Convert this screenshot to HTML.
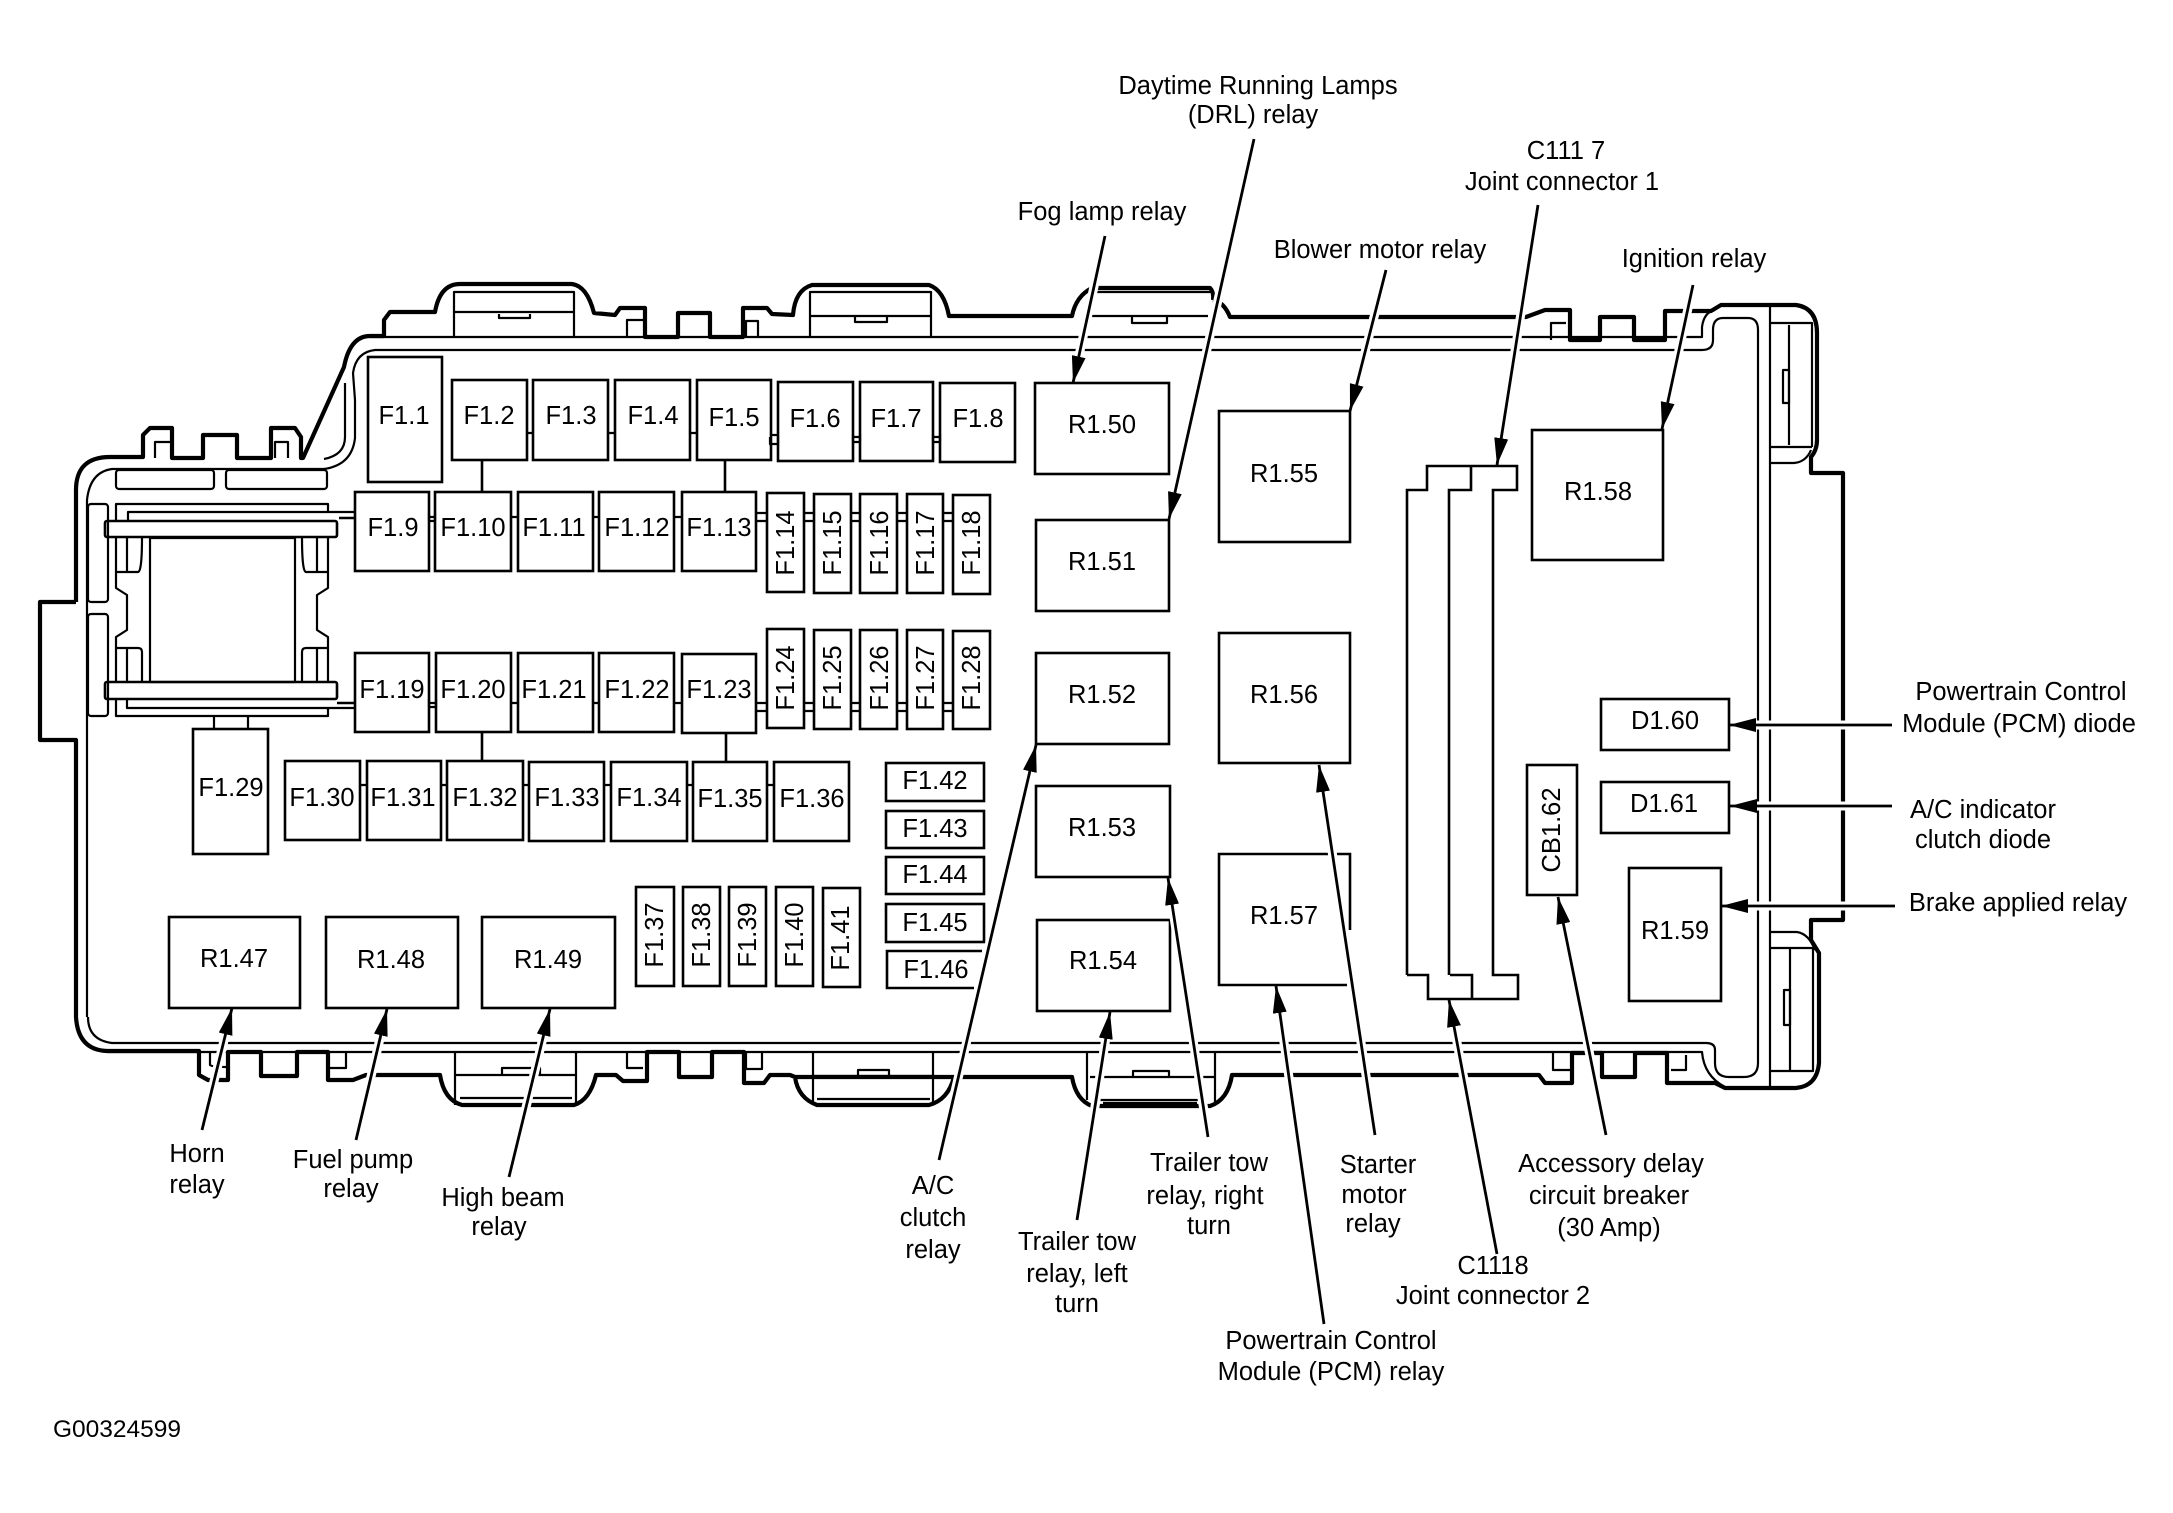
<!DOCTYPE html>
<html><head><meta charset="utf-8"><style>
html,body{margin:0;padding:0;background:#fff;width:2173px;height:1513px;overflow:hidden}
svg{display:block}
text{font-family:"Liberation Sans",sans-serif;font-size:25.5px;fill:#000;text-anchor:middle}
.o{fill:none;stroke:#000;stroke-width:4.2;stroke-linejoin:round}
.t{fill:none;stroke:#000;stroke-width:2.2;stroke-linejoin:round}
.b{fill:none;stroke:#000;stroke-width:2.6}
.h{stroke:#fff;stroke-width:9;fill:none;stroke-dasharray:.86 1}
.a{stroke:#000;stroke-width:2.8;fill:none;marker-end:url(#m)}
</style></head><body>
<svg xmlns="http://www.w3.org/2000/svg" width="2173" height="1513" viewBox="0 0 2173 1513">
<defs><marker id="m" markerUnits="userSpaceOnUse" markerWidth="28" markerHeight="14" refX="27" refY="7" orient="auto"><path d="M0,0L27,7L0,14z" fill="#000"/></marker></defs>
<rect width="2173" height="1513" fill="#fff"/>

<!-- outer housing -->
<path class="o" d="M76,602V490Q76,457 110,457H143V435L150,428H172V458H203V435H237V458H271V428H295L301,437V458H303L344,367Q350,336 370,336H384V320L390,312H435Q440,284 460,284H572Q587,286 594,313L615,315L620,308H645V337H678V313H710V337H743V308H767L772,314L793,315Q795,290 812,285H929Q944,290 949,316H1072Q1076,296 1092,288H1210Q1214,292 1213,300M1213,300Q1224,302 1230,317H1526L1545,310H1570V340H1600V317H1634V340H1665V311H1711L1721,305H1796Q1817,308 1817,333V440Q1817,450 1811,457V473H1843V920H1811V940L1819,953V1063Q1817,1086 1796,1088H1725L1715,1083H1667V1053H1635V1077H1602V1053H1572V1083H1545L1539,1075H1232Q1228,1100 1210,1106H1092Q1076,1100 1072,1077H795Q798,1098 817,1105H929Q948,1100 954,1077H795L790,1075H770L764,1083H744V1052H712V1077H679V1052H647V1081H623L616,1075H596Q590,1100 574,1105H462Q444,1100 440,1075H366L353,1080H328V1052H297V1076H261V1052H228V1080H208L199,1075V1051H107Q78,1050 76,1017V740H40V602H76"/>
<path class="o" d="M1103,1104H1197"/>

<!-- inner walls -->
<path class="t" d="M87,1017V500Q90,472 112,469H324Q352,465 355,438V400L353,373Q356,352 375,350H1702Q1713,350 1713,340V330Q1713,318 1723,318H1748Q1758,318 1758,330V1063Q1758,1077 1744,1077H1729Q1715,1077 1715,1063V1050Q1715,1043 1706,1043H112Q88,1040 88,1017"/>
<path class="t" d="M324,459Q345,455 345,437V383"/>
<path class="t" d="M370,337H1702V327Q1704,312 1715,310"/>
<path class="t" d="M107,1052H1702Q1704,1076 1725,1087"/>
<path class="t" d="M1770,305V1088"/>
<!-- right clips -->
<path class="t" d="M1770,323H1812V447M1789,325V445M1770,447H1812M1770,463H1794Q1806,462 1811,450"/>
<rect class="t" x="1783" y="370" width="6" height="33"/>
<path class="t" d="M1770,932H1797Q1809,934 1815,950M1770,948H1813V1071H1770M1790,948V1071"/>
<rect class="t" x="1784" y="990" width="6" height="35"/>
<!-- top clips -->
<path class="t" d="M454,337V292H574V337M454,312H574M499,314v4h31v-4M627,337V320H643"/>
<path class="t" d="M810,337V292H931V337M810,316H931M855,317v5h32v-5M746,337V321H758V337"/>
<path class="t" d="M1095,292H1212M1092,316H1208M1132,317v6h35v-6"/>
<path class="t" d="M1551,340V323H1566"/>
<!-- bottom clips -->
<path class="t" d="M455,1052V1105M576,1052V1105M455,1075H576M502,1075V1068H540V1075M460,1098H572"/>
<path class="t" d="M813,1052V1105M933,1052V1105M813,1076H933M858,1076V1070H889V1076M817,1099H930"/>
<path class="t" d="M1087,1052V1100M1215,1052V1102M1090,1077H1215M1133,1077V1071H1169V1077M1100,1100H1200"/>
<path class="t" d="M210,1052V1065Q212,1067 226,1067M328,1068H346V1052M627,1052V1068H643M746,1052V1069H762V1052M1553,1053V1070H1570M1671,1070H1686V1055"/>
<!-- top-left tab inner -->
<path class="t" d="M155,458V442H172M275,458V442H288V458"/>

<!-- left mechanism -->
<rect class="t" x="116" y="470" width="98" height="19" rx="3"/>
<rect class="t" x="226" y="470" width="101" height="19" rx="3"/>
<rect class="t" x="88" y="504" width="20" height="98" rx="3"/>
<rect class="t" x="88" y="614" width="20" height="102" rx="3"/>
<path class="t" d="M116,521V504H328V512M128,521V512H355"/>
<path class="b" d="M339,518H355M337,703H355"/>
<rect class="b" x="105" y="521" width="232" height="16" rx="2"/>
<rect class="b" x="105" y="682" width="232" height="17" rx="2"/>
<rect class="t" x="150" y="538" width="145" height="144"/>
<path class="t" d="M116,537V588L127,595V630L116,637V682M127,537V572M142,537Q142,572 138,572H116"/>
<path class="t" d="M328,537V588L317,595V630L328,637V682M317,537V572M302,537Q302,572 306,572H328"/>
<path class="t" d="M116,648H138Q142,648 142,652V682M127,648V682M328,648H306Q302,648 302,652V682M317,648V682"/>
<path class="t" d="M116,699V716H328V708H127V699M328,708H355"/>
<path class="t" d="M214,716V728M248,716V728"/>

<!-- stems -->
<path class="b" d="M482,460V492M725,460V492M482,732V761M726,732V761"/>
<path class="t" d="M527,433H533M608,433H615M690,433H697M770,435H778M853,437H860M933,437H940M429,517H435M511,517H518M593,517H599M674,517H682M429,703H436M511,703H518M593,703H599M674,703H682M360,785H367M441,785H447M523,785H529M604,785H611M687,785H693M767,785H774"/>
<path class="t" d="M770,437v7H778v-7M853,434v8H860v-8M933,434v8H940v-8M429,513v8H435v-8M429,699v8H436v-8"/>
<path class="t" d="M756,513H767M756,521H767M804,513H814M804,521H814M851,513H860M851,521H860M897,513H907M897,521H907M943,513H953M943,521H953"/>
<path class="t" d="M756,703H767M756,711H767M804,703H814M804,711H814M851,703H860M851,711H860M897,703H907M897,711H907M943,703H953M943,711H953"/>

<!-- fuses -->
<g class="b">
<rect x="368" y="357" width="74" height="125"/>
<rect x="452" y="380" width="75" height="80"/><rect x="533" y="380" width="75" height="80"/><rect x="615" y="380" width="75" height="80"/><rect x="697" y="380" width="74" height="80"/>
<rect x="778" y="382" width="75" height="79"/><rect x="860" y="382" width="73" height="79"/><rect x="940" y="383" width="75" height="79"/>
<rect x="355" y="492" width="74" height="79"/><rect x="435" y="492" width="76" height="79"/><rect x="518" y="492" width="75" height="79"/><rect x="599" y="492" width="75" height="79"/><rect x="682" y="492" width="74" height="79"/>
<rect x="767" y="493" width="37" height="99"/><rect x="814" y="494" width="37" height="99"/><rect x="860" y="494" width="37" height="99"/><rect x="907" y="494" width="36" height="99"/><rect x="953" y="495" width="37" height="99"/>
<rect x="355" y="653" width="74" height="79"/><rect x="436" y="653" width="75" height="79"/><rect x="518" y="653" width="75" height="79"/><rect x="599" y="653" width="75" height="79"/><rect x="682" y="654" width="74" height="79"/>
<rect x="767" y="629" width="37" height="99"/><rect x="814" y="630" width="37" height="99"/><rect x="860" y="630" width="37" height="99"/><rect x="907" y="630" width="36" height="99"/><rect x="953" y="631" width="37" height="98"/>
<rect x="193" y="729" width="75" height="125"/>
<rect x="285" y="761" width="75" height="79"/><rect x="367" y="761" width="74" height="79"/><rect x="447" y="761" width="76" height="79"/><rect x="529" y="762" width="75" height="79"/><rect x="611" y="762" width="76" height="79"/><rect x="693" y="762" width="74" height="79"/><rect x="774" y="762" width="75" height="79"/>
<rect x="636" y="887" width="38" height="99"/><rect x="683" y="887" width="37" height="99"/><rect x="729" y="887" width="37" height="99"/><rect x="776" y="887" width="37" height="99"/><rect x="823" y="888" width="37" height="99"/>
<rect x="886" y="763" width="98" height="38"/><rect x="886" y="811" width="98" height="37"/><rect x="886" y="857" width="98" height="37"/><rect x="886" y="904" width="98" height="38"/>
<path d="M982,951H887V988H974"/>
<!-- relays -->
<rect x="169" y="917" width="131" height="91"/><rect x="326" y="917" width="132" height="91"/><rect x="482" y="917" width="133" height="91"/>
<rect x="1035" y="383" width="134" height="91"/><rect x="1036" y="520" width="133" height="91"/><rect x="1036" y="653" width="133" height="91"/><rect x="1036" y="786" width="134" height="91"/><rect x="1037" y="920" width="133" height="91"/>
<rect x="1219" y="411" width="131" height="131"/><rect x="1219" y="633" width="131" height="130"/>
<path d="M1350,930V854H1219V985H1347"/>
<rect x="1532" y="430" width="131" height="130"/>
<rect x="1601" y="699" width="128" height="51"/><rect x="1601" y="782" width="128" height="51"/>
<rect x="1527" y="765" width="50" height="130"/><rect x="1629" y="868" width="92" height="133"/>
</g>

<!-- joint connectors -->
<path class="b" d="M1407,975V490H1427V466H1517V490H1493V975H1518V999H1428V975H1407M1449,975V490H1471V466M1450,975H1472V999"/>

<!-- arrow halos -->
<g class="h">
<path pathLength="1" d="M1105,236L1073,383"/><path pathLength="1" d="M1254,139L1169,519"/><path pathLength="1" d="M1538,205L1497,465"/><path pathLength="1" d="M1386,270L1350,411"/><path pathLength="1" d="M1693,285L1662,429"/>
<path pathLength="1" d="M1892,725H1729"/><path pathLength="1" d="M1892,806H1730"/><path pathLength="1" d="M1895,906H1721"/>
<path pathLength="1" d="M1606,1135L1558,897"/><path pathLength="1" d="M1497,1254L1449,1000"/><path pathLength="1" d="M1375,1135L1319,765"/><path pathLength="1" d="M1324,1324L1276,986"/><path pathLength="1" d="M1208,1137L1168,878"/><path pathLength="1" d="M1077,1220L1110,1012"/><path pathLength="1" d="M939,1160L1036,745"/>
<path pathLength="1" d="M509,1177L550,1009"/><path pathLength="1" d="M356,1140L387,1009"/><path pathLength="1" d="M202,1130L232,1008"/>
</g>
<!-- arrows -->
<g>
<path class="a" d="M1105,236L1073,383"/><path class="a" d="M1254,139L1169,519"/><path class="a" d="M1538,205L1497,465"/><path class="a" d="M1386,270L1350,411"/><path class="a" d="M1693,285L1662,429"/>
<path class="a" d="M1892,725H1729"/><path class="a" d="M1892,806H1730"/><path class="a" d="M1895,906H1721"/>
<path class="a" d="M1606,1135L1558,897"/><path class="a" d="M1497,1254L1449,1000"/><path class="a" d="M1375,1135L1319,765"/><path class="a" d="M1324,1324L1276,986"/><path class="a" d="M1208,1137L1168,878"/><path class="a" d="M1077,1220L1110,1012"/><path class="a" d="M939,1160L1036,745"/>
<path class="a" d="M509,1177L550,1009"/><path class="a" d="M356,1140L387,1009"/><path class="a" d="M202,1130L232,1008"/>
</g>

<!-- fuse labels -->
<text x="404" y="424">F1.1</text><text x="489" y="424">F1.2</text><text x="571" y="424">F1.3</text><text x="653" y="424">F1.4</text><text x="734" y="426">F1.5</text><text x="815" y="427">F1.6</text><text x="896" y="427">F1.7</text><text x="978" y="427">F1.8</text>
<text x="393" y="536">F1.9</text><text x="473" y="536">F1.10</text><text x="554" y="536">F1.11</text><text x="637" y="536">F1.12</text><text x="719" y="536">F1.13</text>
<text x="392" y="698">F1.19</text><text x="473" y="698">F1.20</text><text x="554" y="698">F1.21</text><text x="637" y="698">F1.22</text><text x="719" y="698">F1.23</text>
<text x="231" y="796">F1.29</text>
<text x="322" y="806">F1.30</text><text x="403" y="806">F1.31</text><text x="485" y="806">F1.32</text><text x="567" y="806">F1.33</text><text x="649" y="806">F1.34</text><text x="730" y="807">F1.35</text><text x="812" y="807">F1.36</text>
<text x="935" y="789">F1.42</text><text x="935" y="837">F1.43</text><text x="935" y="883">F1.44</text><text x="935" y="931">F1.45</text><text x="936" y="978">F1.46</text>
<text transform="translate(794,543) rotate(-90)">F1.14</text><text transform="translate(841,543) rotate(-90)">F1.15</text><text transform="translate(888,543) rotate(-90)">F1.16</text><text transform="translate(934,543) rotate(-90)">F1.17</text><text transform="translate(980,543) rotate(-90)">F1.18</text>
<text transform="translate(794,678) rotate(-90)">F1.24</text><text transform="translate(841,678) rotate(-90)">F1.25</text><text transform="translate(888,678) rotate(-90)">F1.26</text><text transform="translate(934,678) rotate(-90)">F1.27</text><text transform="translate(980,678) rotate(-90)">F1.28</text>
<text transform="translate(663,935) rotate(-90)">F1.37</text><text transform="translate(710,935) rotate(-90)">F1.38</text><text transform="translate(756,935) rotate(-90)">F1.39</text><text transform="translate(803,935) rotate(-90)">F1.40</text><text transform="translate(849,938) rotate(-90)">F1.41</text>
<!-- relay labels -->
<text x="234" y="967">R1.47</text><text x="391" y="968">R1.48</text><text x="548" y="968">R1.49</text>
<text x="1102" y="433">R1.50</text><text x="1102" y="570">R1.51</text><text x="1102" y="703">R1.52</text><text x="1102" y="836">R1.53</text><text x="1103" y="969">R1.54</text>
<text x="1284" y="482">R1.55</text><text x="1284" y="703">R1.56</text><text x="1284" y="924">R1.57</text>
<text x="1598" y="500">R1.58</text><text x="1665" y="729">D1.60</text><text x="1664" y="812">D1.61</text><text x="1675" y="939">R1.59</text>
<text transform="translate(1560,830) rotate(-90)">CB1.62</text>
<!-- callouts -->
<text x="1258" y="94">Daytime Running Lamps</text><text x="1253" y="123">(DRL) relay</text>
<text x="1102" y="220">Fog lamp relay</text>
<text x="1566" y="159">C111 7</text><text x="1562" y="190">Joint connector 1</text>
<text x="1380" y="258">Blower motor relay</text>
<text x="1694" y="267">Ignition relay</text>
<text x="2021" y="700">Powertrain Control</text><text x="2019" y="732">Module (PCM) diode</text>
<text x="1983" y="818">A/C indicator</text><text x="1983" y="848">clutch diode</text>
<text x="2018" y="911">Brake applied relay</text>
<text x="1611" y="1172">Accessory delay</text><text x="1609" y="1204">circuit breaker</text><text x="1609" y="1236">(30 Amp)</text>
<text x="1493" y="1274">C1118</text><text x="1493" y="1304">Joint connector 2</text>
<text x="1378" y="1173">Starter</text><text x="1374" y="1203">motor</text><text x="1373" y="1232">relay</text>
<text x="1209" y="1171">Trailer tow</text><text x="1205" y="1204">relay, right</text><text x="1209" y="1234">turn</text>
<text x="1331" y="1349">Powertrain Control</text><text x="1331" y="1380">Module (PCM) relay</text>
<text x="1077" y="1250">Trailer tow</text><text x="1077" y="1282">relay, left</text><text x="1077" y="1312">turn</text>
<text x="933" y="1194">A/C</text><text x="933" y="1226">clutch</text><text x="933" y="1258">relay</text>
<text x="503" y="1206">High beam</text><text x="499" y="1235">relay</text>
<text x="353" y="1168">Fuel pump</text><text x="351" y="1197">relay</text>
<text x="197" y="1162">Horn</text><text x="197" y="1193">relay</text>
<text x="53" y="1437" style="text-anchor:start;font-size:24.5px">G00324599</text>
</svg>
</body></html>
